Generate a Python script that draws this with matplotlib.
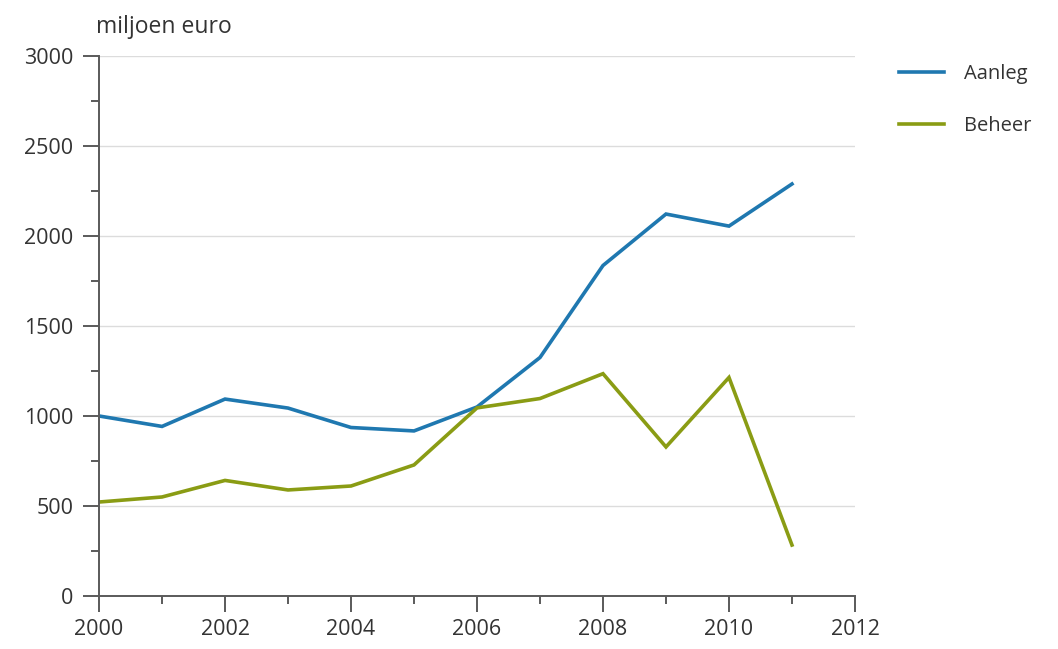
import matplotlib
matplotlib.use("Agg")
import matplotlib.pyplot as plt
from matplotlib.ticker import MultipleLocator

# data
jaren = [2000, 2001, 2002, 2003, 2004, 2005, 2006, 2007, 2008, 2009, 2010, 2011]
aanleg = [1000, 942, 1094, 1044, 936, 917, 1050, 1325, 1836, 2122, 2055, 2289]
beheer = [522, 550, 642, 589, 611, 728, 1045, 1097, 1235, 828, 1214, 283]
reeks_namen = ["Aanleg", "Beheer"]
kleuren = ["#1f78b0", "#8a9c14"]

plt.rcParams['font.family'] = ['Open Sans', 'DejaVu Sans']

fig = plt.figure(figsize=(10.58, 6.49), dpi=100)
ax = fig.add_axes([0.0936, 0.0817, 0.7145, 0.832])

for waarden, naam, kleur in zip([aanleg, beheer], reeks_namen, kleuren):
    ax.plot(jaren, waarden, color=kleur, lw=2.6, label=naam, solid_joinstyle="miter")

ax.set_xlim(2000, 2012)
ax.set_ylim(0, 3000)
ax.xaxis.set_major_locator(MultipleLocator(2))
ax.xaxis.set_minor_locator(MultipleLocator(1))
ax.yaxis.set_major_locator(MultipleLocator(500))
ax.yaxis.set_minor_locator(MultipleLocator(250))

ax.grid(axis="y", which="major", color="#dcdcdc", lw=1)
ax.set_axisbelow(True)

for s in ["top", "right"]:
    ax.spines[s].set_visible(False)
for s in ["left", "bottom"]:
    ax.spines[s].set_color("#5a5a5a")
    ax.spines[s].set_linewidth(1.4)

ax.tick_params(which="major", length=11.5, width=1.4, color="#5a5a5a",
               labelsize=15.5, labelcolor="#333333", pad=7)
ax.tick_params(which="minor", length=6, width=1.4, color="#5a5a5a")
ax.tick_params(axis="x", which="major", pad=5)

fig.text(0.091, 0.958, "miljoen euro", fontsize=16.5, color="#333333",
         ha="left", va="center")

ax.legend(loc="upper left", bbox_to_anchor=(0.833, 0.929), bbox_transform=fig.transFigure,
          frameon=False, fontsize=14.5, handlelength=2.2, handletextpad=1.0,
          labelspacing=1.6, labelcolor="#333333")

fig.savefig("out.png", dpi=100)
